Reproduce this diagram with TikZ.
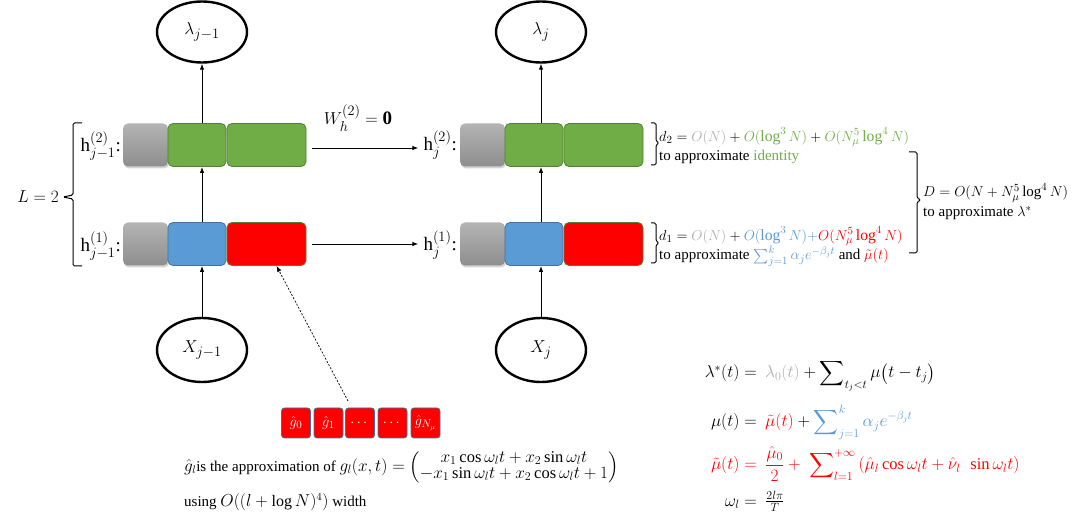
\documentclass[tikz,border=0pt]{standalone}
\usepackage{fontspec}
\setmainfont{Liberation Serif}
\usepackage{amsmath}
\usetikzlibrary{arrows.meta,shadows,shapes.geometric}
\definecolor{cgreen}{HTML}{70AD47}
\definecolor{cgreenD}{HTML}{507E32}
\definecolor{cblue}{HTML}{5B9BD5}
\definecolor{cblueD}{HTML}{41719C}
\definecolor{cred}{HTML}{FF0000}
\definecolor{lgray}{HTML}{ADADAD}
\definecolor{gtop}{HTML}{B4B4B4}
\definecolor{gbot}{HTML}{8E8E8E}
\begin{document}
\begin{tikzpicture}[x=1pt,y=-1pt,
  arr/.style={-{Latex[length=6pt,width=4.5pt]}, line width=0.9pt},
  ell/.style={ellipse, draw, line width=2.4pt, minimum width=90pt, inner sep=0pt, font=\fontsize{19}{22}\selectfont},
  cell/.style={rounded corners=5pt, minimum height=43pt, inner sep=0pt, line width=0.8pt},
  graycell/.style={cell, top color=gtop, bottom color=gbot, minimum width=45pt, drop shadow={shadow xshift=1pt, shadow yshift=-2pt, opacity=0.35}},
  greencell/.style={cell, draw=cgreenD, fill=cgreen},
  bluecell/.style={cell, draw=cblueD, fill=cblue},
  redcell/.style={cell, draw=cgreenD, fill=cred},
  gbox/.style={draw=cblueD, fill=cred, rounded corners=3pt, minimum width=29pt, minimum height=30pt, inner sep=0pt, text=white, line width=0.8pt, font=\fontsize{15}{17}\selectfont},
  lbl/.style={font=\fontsize{19}{22}\selectfont, inner sep=1pt},
  txt/.style={font=\fontsize{15}{18}\selectfont, inner sep=0pt, anchor=west},
  mtxt/.style={font=\fontsize{15.7}{18}\selectfont, inner sep=0pt, anchor=west},
  eq/.style={font=\fontsize{16.5}{19}\selectfont, inner sep=0pt},
  brc/.style={line width=1pt, rounded corners=1.5pt}
]
\useasboundingbox (0,0) rectangle (1072,521);

% ellipses
\node[ell, minimum height=61pt] (lamL) at (202,32) {$\lambda_{j-1}$};
\node[ell, minimum height=61pt] (lamR) at (541,32) {$\lambda_j$};
\node[ell, minimum height=64pt] (XL) at (202,350) {$X_{j-1}$};
\node[ell, minimum height=64pt] (XR) at (541,350) {$X_j$};

% left boxes
\node[graycell] (g2L) at (145.5,145) {};
\node[greencell, minimum width=58pt] (m2L) at (197,145) {};
\node[greencell, minimum width=79pt] (w2L) at (266.5,145) {};
\node[graycell] (g1L) at (145.5,244) {};
\node[bluecell, minimum width=58pt] (m1L) at (197,244) {};
\node[redcell, minimum width=79pt] (w1L) at (266.5,244) {};
% right boxes
\node[graycell] (g2R) at (482.5,145) {};
\node[greencell, minimum width=58pt] (m2R) at (534,145) {};
\node[greencell, minimum width=79pt] (w2R) at (603.5,145) {};
\node[graycell] (g1R) at (482.5,244) {};
\node[bluecell, minimum width=58pt] (m1R) at (534,244) {};
\node[redcell, minimum width=79pt] (w1R) at (603.5,244) {};

% row labels
\node[lbl, anchor=east] (h2L) at (122,146) {$\mathrm{h}^{(2)}_{j-1}$:};
\node[lbl, anchor=east] (h1L) at (122,246) {$\mathrm{h}^{(1)}_{j-1}$:};
\node[lbl, anchor=east] (h2R) at (458,145) {$\mathrm{h}^{(2)}_{j}$:};
\node[lbl, anchor=east] (h1R) at (458,245) {$\mathrm{h}^{(1)}_{j}$:};
\node[lbl, anchor=east] (L) at (60,197) {$L=2$};
\node[lbl] (W) at (358,118) {$W_h^{(2)}=\mathbf{0}$};

% left brace
\draw[brc] (82,123) -- (73,123) -- (73,195) -- (63,197) -- (73,199) -- (73,266) -- (82,266);

% vertical arrows
\draw[arr] (lamL.south |- m2L.north) -- (lamL.south);
\draw[arr] (lamR.south |- m2R.north) -- (lamR.south);
\draw[arr] (lamL.south |- m1L.north) -- (lamL.south |- m2L.south);
\draw[arr] (lamR.south |- m1R.north) -- (lamR.south |- m2R.south);
\draw[arr] (XL.north) -- (XL.north |- m1L.south);
\draw[arr] (XR.north) -- (XR.north |- m1R.south);

% horizontal arrows
\draw[arr, shorten <=6pt, shorten >=4pt] ([yshift=-3pt]w2L.east) -- ([yshift=-3pt]w2L.east -| h2R.west);
\draw[arr, shorten <=6pt, shorten >=4pt] (w1L.east) -- (w1L.east -| h1R.west);

% g boxes
\node[gbox] (q0) at (296,423) {$\hat g_0$};
\node[gbox] (q1) at (328.5,423) {$\hat g_1$};
\node[gbox] (q2) at (360,423) {$\cdots$};
\node[gbox] (q3) at (392.5,423) {$\cdots$};
\node[gbox] (q4) at (425.5,423) {$\hat g_{N_\mu}$};
\coordinate (dstart) at (348,401);
\draw[-{Latex[length=6pt,width=4.5pt]}, line width=0.7pt, dash pattern=on 2pt off 1.6pt] (dstart) -- ([xshift=10pt]w1L.south);

\node[txt] (desc) at (184,467) {{\fontsize{16}{18}\selectfont$\hat g_l$}is the approximation of {\fontsize{16.5}{18}\selectfont$g_l(x,t)=\renewcommand{\arraystretch}{0.85}\begin{pmatrix} x_1\cos\omega_l t + x_2\sin\omega_l t\\ -x_1\sin\omega_l t + x_2\cos\omega_l t+1\end{pmatrix}$}};
\node[txt] (use) at (184,502) {using {\fontsize{16}{18}\selectfont$O((l+\log N)^4)$} width};

% right annotations
\draw[brc] (651,123) -- (656,123) -- (656,141) -- (659,143) -- (656,145) -- (656,165) -- (651,165);
\node[mtxt] (d2) at (659,137) {$d_2=\textcolor{lgray}{O(N)}+\textcolor{cgreen}{O(\log^3 N)}+\textcolor{cgreen}{O(N_\mu^5\log^4 N)}$};
\node[txt] (d2t) at (659,157) {to approximate \textcolor{cgreen}{identity}};
\draw[brc] (651,223) -- (656,223) -- (656,241) -- (659,243) -- (656,245) -- (656,263) -- (651,263);
\node[mtxt] (d1) at (659,236) {$d_1=\textcolor{lgray}{O(N)}+\textcolor{cblue}{O(\log^3 N)+}\textcolor{cred}{O(N_\mu^5\log^4 N)}$};
\node[txt] (d1t) at (659,256) {to approximate \textcolor{cblue}{$\sum_{j=1}^{k}\alpha_j e^{-\beta_j t}$} and \textcolor{cred}{$\tilde\mu(t)$}};
\draw[brc] (909,152) -- (917,152) -- (917,198) -- (921,200) -- (917,202) -- (917,253) -- (909,253);
\node[txt] (D) at (923,193) {$D=O(N+N_\mu^5\log^4 N)$};
\node[txt] (Dt) at (923,213) {to approximate $\lambda^*$};

% equations
\node[eq, anchor=base east] (e1l) at (757,378) {$\lambda^*(t)=$};
\node[eq, anchor=base west] (e1r) at (765,378) {$\textcolor{lgray}{\lambda_0(t)}+\displaystyle\sum\nolimits_{t_j<t}\mu\bigl(t-t_j\bigr)$};
\node[eq, anchor=base east] (e2l) at (757,427) {$\mu(t)=$};
\node[eq, anchor=base west] (e2r) at (765,427) {$\textcolor{cred}{\tilde\mu(t)}+\textcolor{cblue}{\displaystyle\sum\nolimits_{j=1}^{k}\alpha_j e^{-\beta_j t}}$};
\node[eq, anchor=base east, text=cred] (e3l) at (757,470) {$\tilde\mu(t)=$};
\node[eq, anchor=base west, text=cred] (e3r) at (765,470) {$\dfrac{\hat\mu_0}{2}+\;\displaystyle\sum\nolimits_{l=1}^{+\infty}\,(\hat\mu_l\cos\omega_l t+\hat\nu_l\ \,\sin\omega_l t)$};
\node[eq, anchor=base east] (e4l) at (757,506) {$\omega_l=$};
\node[eq, anchor=base west] (e4r) at (765,506) {$\tfrac{2l\pi}{T}$};
\end{tikzpicture}
\end{document}
